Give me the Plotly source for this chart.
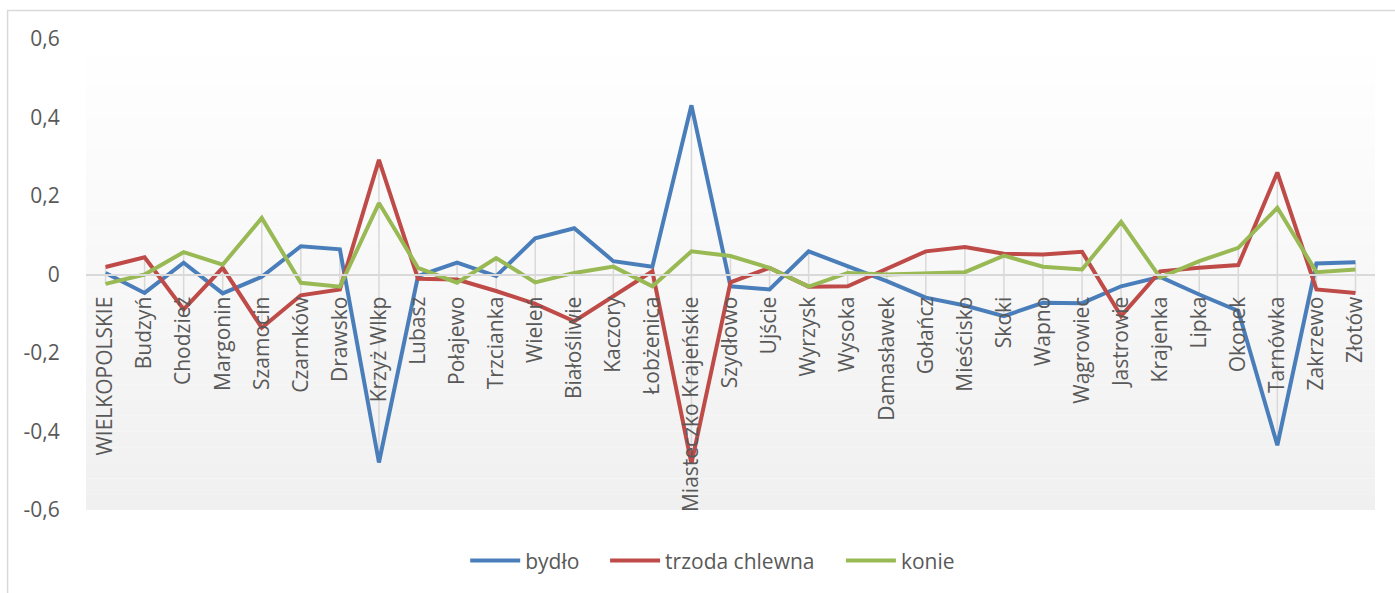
import plotly.graph_objects as go

categories = ["WIELKOPOLSKIE", "Budzyń", "Chodzież", "Margonin", "Szamocin", "Czarnków",
              "Drawsko", "Krzyż Wlkp", "Lubasz", "Połajewo", "Trzcianka", "Wieleń",
              "Białośliwie", "Kaczory", "Łobżenica", "Miasteczko Krajeńskie", "Szydłowo",
              "Ujście", "Wyrzysk", "Wysoka", "Damasławek", "Gołańcz", "Mieścisko", "Skoki",
              "Wapno", "Wągrowiec", "Jastrowie", "Krajenka", "Lipka", "Okonek", "Tarnówka",
              "Zakrzewo", "Złotów"]

bydlo = [0.004, -0.047, 0.030, -0.048, -0.006, 0.072, 0.064, -0.479, -0.004, 0.030,
         -0.004, 0.092, 0.118, 0.034, 0.020, 0.431, -0.030, -0.038, 0.059, 0.021,
         -0.017, -0.059, -0.079, -0.106, -0.072, -0.073, -0.030, -0.006, -0.051,
         -0.093, -0.435, 0.028, 0.031]

trzoda = [0.019, 0.044, -0.089, 0.017, -0.136, -0.053, -0.038, 0.292, -0.011, -0.013,
          -0.042, -0.075, -0.119, -0.055, 0.008, -0.482, -0.020, 0.017, -0.031, -0.030,
          0.015, 0.059, 0.070, 0.053, 0.051, 0.058, -0.106, 0.008, 0.017, 0.024, 0.260,
          -0.038, -0.047]

konie = [-0.024, 0.000, 0.057, 0.025, 0.144, -0.021, -0.031, 0.182, 0.017, -0.021,
         0.042, -0.020, 0.004, 0.020, -0.030, 0.059, 0.047, 0.017, -0.031, 0.004,
         0.000, 0.003, 0.006, 0.048, 0.020, 0.013, 0.134, -0.008, 0.034, 0.068, 0.170,
         0.006, 0.013]

series_names = ["bydło", "trzoda chlewna", "konie"]
y_tickvals = [0.6, 0.4, 0.2, 0, -0.2, -0.4, -0.6]
y_ticktext = ["0,6", "0,4", "0,2", "0", "-0,2", "-0,4", "-0,6"]

colors = ["#4a7ebb", "#be4b48", "#98b954"]
FONT = "Open Sans"
TXT = "#595959"

W, L = 1290.0, 85.5
H, T = 473.0, 39.0

fig = go.Figure()

# high-low lines
hl_x, hl_y = [], []
for i, c in enumerate(categories):
    vals = [bydlo[i], trzoda[i], konie[i]]
    hl_x += [c, c, None]
    hl_y += [max(vals), min(vals), None]
fig.add_trace(go.Scatter(x=hl_x, y=hl_y, mode="lines", showlegend=False, hoverinfo="skip",
                         line=dict(color="#d9d9d9", width=1.5)))

legend_ids = ["legend", "legend2", "legend3"]
legend_px = [467, 607, 843]
for name, vals, col, lid in zip(series_names, [bydlo, trzoda, konie], colors, legend_ids):
    fig.add_trace(go.Scatter(x=categories, y=vals, mode="lines", name=name, legend=lid,
                             line=dict(color=col, width=4, shape="linear")))

# gradient background bands
shapes = []
n = 30
for k in range(n):
    t = k / (n - 1)
    g = int(round(255 - (255 - 240) * t))
    shapes.append(dict(type="rect", xref="paper", yref="paper",
                       x0=0, x1=1, y0=1 - (k + 1) / n, y1=1 - k / n,
                       fillcolor=f"rgb({g},{g},{g})", line=dict(width=0), layer="below"))
# outer chart border (left and top visible)
shapes.append(dict(type="rect", xref="paper", yref="paper",
                   x0=(7 - L) / W, x1=(1420 - L) / W,
                   y0=-(620 - T - H) / H, y1=(T + H - 10.5) / H,
                   line=dict(color="#d9d9d9", width=1.5), fillcolor="rgba(0,0,0,0)", layer="below"))

leg_common = dict(orientation="h", y=-0.108, xanchor="left", yanchor="middle",
                  font=dict(family=FONT, size=21, color=TXT), bgcolor="rgba(0,0,0,0)",
                  itemwidth=50, tracegroupgap=0)
legends = {}
for lid, px in zip(legend_ids, legend_px):
    legends[lid] = dict(leg_common, x=(px - L - 2) / W)

fig.update_layout(
    width=1395, height=593,
    margin=dict(l=85.5, r=19.5, t=39, b=81, pad=0),
    paper_bgcolor="white", plot_bgcolor="white",
    font=dict(family=FONT, size=21, color=TXT),
    shapes=shapes,
    showlegend=True,
    xaxis=dict(type="category", range=[-0.5, len(categories) - 0.5],
               anchor="free", position=0.5,
               showgrid=False, showline=True, linecolor="#d9d9d9", linewidth=1.5,
               tickangle=-90, ticks="outside", ticklen=13, tickcolor="rgba(0,0,0,0)",
               tickfont=dict(family=FONT, size=21, color=TXT), zeroline=False),
    yaxis=dict(range=[-0.6, 0.6], tickvals=y_tickvals, ticktext=y_ticktext,
               showgrid=False, zeroline=False, showline=False,
               ticks="outside", ticklen=21, tickcolor="rgba(0,0,0,0)",
               tickfont=dict(family=FONT, size=21, color=TXT)),
    **legends,
)

fig.write_html("out.html")
